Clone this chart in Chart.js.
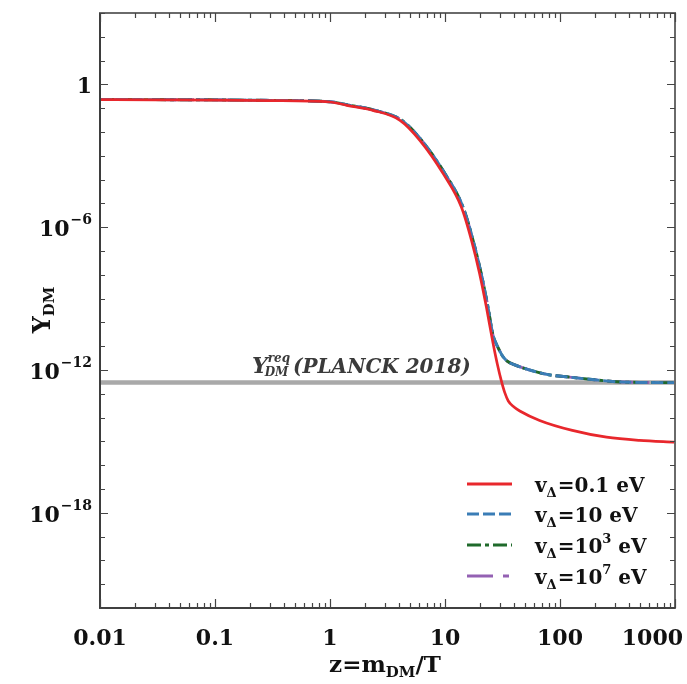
<!DOCTYPE html>
<html>
<head>
<meta charset="utf-8">
<script src="https://cdn.jsdelivr.net/npm/chart.js@4.4.0/dist/chart.umd.min.js"></script>
<style>
  html, body { margin: 0; padding: 0; background: #fff; overflow: hidden; }
  canvas { display: block; }
</style>
</head>
<body>
<canvas id="c" width="687" height="684"></canvas>
<script>
// Relic abundance Y_DM versus z = m_DM / T for several triplet vevs v_Δ.

// v_Δ = 0.1 eV
const zRed = [0.01, 0.03, 0.1, 0.3, 1, 1.4, 2.36, 4.06, 6.04, 9.64, 13.9, 17.0, 20.0, 22.9, 26.2, 28.5, 30.9, 33.1, 35.5, 39.8, 44.7, 66.5, 128, 254, 491, 1000];
const yRed = [0.229, 0.224, 0.219, 0.209, 0.182, 0.132, 0.0813, 0.0309, 4.47e-3, 1.78e-4, 6.9e-6, 2.8e-7, 1.12e-8, 4.4e-10, 1.29e-11, 1.78e-12, 3.5e-13, 1.12e-13, 5.0e-14, 2.8e-14, 1.9e-14, 7.6e-15, 2.9e-15, 1.5e-15, 1.1e-15, 9.3e-16];

// v_Δ = 10 eV
const zBlue = [0.01, 0.03, 0.1, 0.3, 1, 1.45, 2.43, 4.18, 6.22, 9.93, 14.3, 17.5, 20.6, 23.6, 26.0, 28.5, 29.9, 31.5, 34.2, 41, 54.5, 80, 121, 190, 286, 500, 1000];
const yBlue = [0.234, 0.229, 0.224, 0.214, 0.187, 0.135, 0.083, 0.0315, 4.6e-3, 1.85e-4, 7.2e-6, 2.9e-7, 1.15e-8, 4.6e-10, 3.2e-11, 1.0e-11, 6.3e-12, 4.0e-12, 2.5e-12, 1.6e-12, 1.0e-12, 6.3e-13, 5.0e-13, 4.0e-13, 3.3e-13, 3.0e-13, 2.95e-13];

// v_Δ = 10^3 eV
const zGreen = [0.01, 0.03, 0.1, 0.3, 1, 1.45, 2.43, 4.18, 6.22, 9.93, 14.3, 17.5, 20.6, 23.6, 26.0, 28.5, 29.9, 31.5, 34.2, 41, 54.5, 80, 121, 190, 286, 500, 1000];
const yGreen = [0.234, 0.229, 0.224, 0.214, 0.187, 0.136, 0.0835, 0.0318, 4.65e-3, 1.88e-4, 7.3e-6, 2.95e-7, 1.17e-8, 4.7e-10, 3.3e-11, 1.02e-11, 6.4e-12, 4.0e-12, 2.5e-12, 1.6e-12, 1.0e-12, 6.3e-13, 5.0e-13, 4.0e-13, 3.3e-13, 3.0e-13, 2.95e-13];

// v_Δ = 10^7 eV
const zPurple = [0.01, 0.03, 0.1, 0.3, 1, 1.45, 2.43, 4.18, 6.22, 9.93, 14.3, 17.5, 20.6, 23.6, 26.0, 28.5, 29.9, 31.5, 34.2, 41, 54.5, 80, 121, 190, 286, 500, 1000];
const yPurple = [0.234, 0.229, 0.224, 0.214, 0.187, 0.135, 0.0832, 0.0316, 4.62e-3, 1.86e-4, 7.25e-6, 2.92e-7, 1.16e-8, 4.65e-10, 3.25e-11, 1.01e-11, 6.3e-12, 4.0e-12, 2.5e-12, 1.6e-12, 1.0e-12, 6.3e-13, 5.0e-13, 4.0e-13, 3.3e-13, 3.0e-13, 2.95e-13];

// Required relic abundance (PLANCK 2018)
const yPlanck = 3.0e-13;

// Axis ticks
const xTickValues = [0.01, 0.1, 1, 10, 100, 1000];
const xTickLabels = ['0.01', '0.1', '1', '10', '100', '1000'];
const yTickExponents = [0, -6, -12, -18];

const xMin = 0.01, xMax = 1000;
const yMin = 1e-22, yMax = 1e3;

const pts = (zs, ys) => zs.map((z, i) => ({ x: z, y: ys[i] }));

const SERIF = '"DejaVu Serif", "Liberation Serif", serif';

const series = [
  { label: '0.1', color: '#e8272c', dash: [], width: 2.7, data: pts(zRed, yRed) },
  { label: '10', color: '#3a7db6', dash: [12, 4], width: 2.9, data: pts(zBlue, yBlue) },
  { label: '10^3', color: '#1f6a2b', dash: [14, 4, 4, 4], width: 2.9, data: pts(zGreen, yGreen) },
  { label: '10^7', color: '#9461b3', dash: [26, 10, 6, 10], width: 2.9, data: pts(zPurple, yPurple) }
];

const datasets = series.map(s => ({
  label: s.label,
  data: s.data,
  borderColor: s.color,
  borderDash: s.dash,
  borderWidth: s.width,
  pointRadius: 0,
  fill: false,
  cubicInterpolationMode: 'monotone'
}));
datasets.push({
  label: 'planck',
  data: [{ x: xMin, y: yPlanck }, { x: xMax, y: yPlanck }],
  borderColor: '#a9a9a9',
  borderWidth: 4.5,
  pointRadius: 0,
  fill: false
});

// Draws a run of text pieces; each piece may be raised (sup) or lowered (sub).
function drawRich(ctx, x, y, pieces) {
  let cx = x;
  for (const p of pieces) {
    ctx.font = p.font;
    ctx.fillText(p.t, cx, y + (p.dy || 0));
    cx += ctx.measureText(p.t).width + (p.gap || 0);
  }
  return cx - x;
}
function richWidth(ctx, pieces) {
  let w = 0;
  for (const p of pieces) { ctx.font = p.font; w += ctx.measureText(p.t).width + (p.gap || 0); }
  return w;
}

const decorations = {
  id: 'decorations',
  afterDraw(chart) {
    const ctx = chart.ctx;
    const xs = chart.scales.x, ys = chart.scales.y;
    const a = chart.chartArea;
    ctx.save();

    // frame
    ctx.strokeStyle = '#6a6a6a';
    ctx.lineWidth = 2;
    ctx.strokeRect(a.left, a.top, a.right - a.left, a.bottom - a.top);
    ctx.strokeStyle = '#333';
    ctx.lineWidth = 1.6;
    ctx.beginPath();
    ctx.moveTo(a.left, a.top); ctx.lineTo(a.left, a.bottom); ctx.lineTo(a.right, a.bottom);
    ctx.stroke();

    // inward ticks, mirrored on all sides
    ctx.strokeStyle = '#444';
    ctx.lineWidth = 1.2;
    ctx.beginPath();
    for (let d = -2; d <= 3; d++) {
      for (let m = 1; m <= 9; m++) {
        const v = m * Math.pow(10, d);
        if (v > xMax * 1.0001) break;
        const px = Math.round(xs.getPixelForValue(v)) + 0.5;
        const len = m === 1 ? 9 : 5;
        ctx.moveTo(px, a.bottom); ctx.lineTo(px, a.bottom - len);
        ctx.moveTo(px, a.top); ctx.lineTo(px, a.top + len);
      }
    }
    for (let e = -22; e <= 3; e++) {
      const py = Math.round(ys.getPixelForValue(Math.pow(10, e))) + 0.5;
      const len = e % 6 === 0 ? 8 : 5;
      ctx.moveTo(a.left, py); ctx.lineTo(a.left + len, py);
      ctx.moveTo(a.right, py); ctx.lineTo(a.right - len, py);
    }
    ctx.stroke();

    ctx.fillStyle = '#111';
    ctx.textBaseline = 'alphabetic';

    // x tick labels
    const tickFont = 'bold 22px ' + SERIF;
    ctx.font = tickFont;
    xTickValues.forEach((v, i) => {
      const px = xs.getPixelForValue(v);
      const w = ctx.measureText(xTickLabels[i]).width;
      let left = px - w / 2;
      if (left + w > chart.width - 4) left = chart.width - 4 - w;
      ctx.fillText(xTickLabels[i], left, 645);
    });

    // y tick labels with exponents
    yTickExponents.forEach(e => {
      const py = ys.getPixelForValue(Math.pow(10, e));
      const pieces = e === 0
        ? [{ t: '1', font: tickFont }]
        : [{ t: '10', font: tickFont, gap: 1 }, { t: '\u2212' + Math.abs(e), font: 'bold 14px ' + SERIF, dy: -12 }];
      const w = richWidth(ctx, pieces);
      drawRich(ctx, 92 - w, py + 9, pieces);
    });

    // x title: z = m_DM / T
    const xt = [
      { t: 'z=m', font: 'bold 23px ' + SERIF },
      { t: 'DM', font: 'bold 15px ' + SERIF, dy: 5 },
      { t: '/T', font: 'bold 23px ' + SERIF }
    ];
    drawRich(ctx, 385 - richWidth(ctx, xt) / 2, 672, xt);

    // y title: Y_DM, rotated
    ctx.save();
    ctx.translate(50, 310);
    ctx.rotate(-Math.PI / 2);
    const yt = [
      { t: 'Y', font: 'bold 24px ' + SERIF },
      { t: 'DM', font: 'bold 15px ' + SERIF, dy: 4 }
    ];
    drawRich(ctx, -richWidth(ctx, yt) / 2, 0, yt);
    ctx.restore();

    // PLANCK label above the reference line
    ctx.fillStyle = '#3a3a3a';
    const it = 'italic bold ';
    const yAt = ys.getPixelForValue(yPlanck) - 9;
    let cx = 252;
    ctx.font = it + '22px ' + SERIF;
    ctx.fillText('Y', cx, yAt);
    cx += ctx.measureText('Y').width - 2;
    ctx.font = it + '12px ' + SERIF;
    ctx.fillText('req', cx + 2, yAt - 11);
    ctx.fillText('DM', cx - 1, yAt + 3);
    cx += Math.max(ctx.measureText('DM').width - 1, ctx.measureText('req').width + 2) + 3;
    ctx.font = it + '20px ' + SERIF;
    ctx.fillText('(PLANCK 2018)', cx, yAt);

    // legend
    const rows = [484, 514, 545, 576];
    series.forEach((s, i) => {
      const ry = rows[i];
      ctx.strokeStyle = s.color;
      ctx.lineWidth = 3;
      ctx.setLineDash(s.dash);
      ctx.beginPath();
      ctx.moveTo(467, ry); ctx.lineTo(512, ry);
      ctx.stroke();
      ctx.setLineDash([]);
      ctx.fillStyle = '#111';
      const big = 'bold 20px ' + SERIF;
      const pieces = [
        { t: 'v', font: big },
        { t: '\u0394', font: 'bold 13px ' + SERIF, dy: 5, gap: 1 }
      ];
      if (s.label.includes('^')) {
        const [b, ex] = s.label.split('^');
        pieces.push({ t: '=' + b, font: big });
        pieces.push({ t: ex, font: 'bold 13px ' + SERIF, dy: -10 });
        pieces.push({ t: ' eV', font: big });
      } else {
        pieces.push({ t: '=' + s.label + ' eV', font: big });
      }
      drawRich(ctx, 535, ry + 8, pieces);
    });

    ctx.restore();
  }
};

new Chart(document.getElementById('c'), {
  type: 'line',
  data: { datasets },
  options: {
    responsive: false,
    animation: false,
    parsing: true,
    layout: { padding: { left: 100, top: 13, right: 12, bottom: 76 } },
    plugins: { legend: { display: false }, tooltip: { enabled: false } },
    scales: {
      x: { type: 'logarithmic', min: xMin, max: xMax, display: false },
      y: { type: 'logarithmic', min: yMin, max: yMax, display: false }
    }
  },
  plugins: [decorations]
});
</script>
</body>
</html>
